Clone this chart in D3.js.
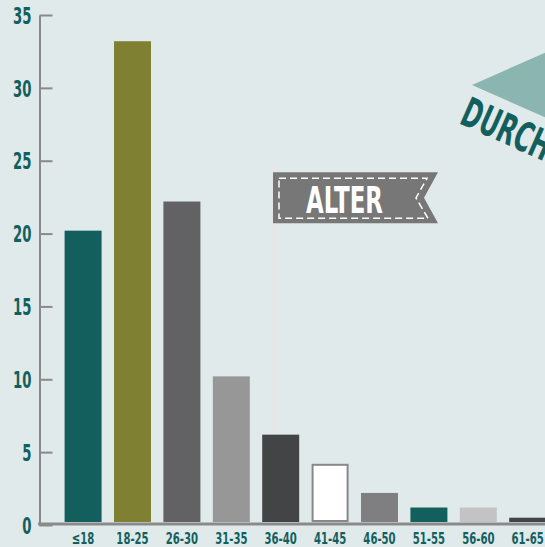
<!DOCTYPE html>
<html>
<head>
<meta charset="utf-8">
<script src="https://cdn.jsdelivr.net/npm/d3@7"></script>
<style>
  html, body { margin: 0; padding: 0; background: #e0eaea; overflow: hidden; }
  svg { display: block; }
  .lbl { font-family: "DejaVu Sans Condensed", "DejaVu Sans", sans-serif; font-weight: bold; }
</style>
</head>
<body>
<div id="chart"></div>
<script>
// age groups and share in percent
var categories = ['≤18', '18-25', '26-30', '31-35', '36-40', '41-45', '46-50', '51-55', '56-60', '61-65'];
var values = [20.2, 33.2, 22.2, 10.2, 6.2, 4.2, 2.2, 1.2, 1.2, 0.5];
var barColors = ['#135f5e', '#808033', '#626264', '#979797', '#434446', '#ffffff', '#7f7f82', '#135f5e', '#c3c3c5', '#434446'];
var yTicks = [0, 5, 10, 15, 20, 25, 30, 35];
var flagLabel = 'ALTER';
var nextTitle = 'DURCHSCHNITT';

var width = 545, height = 547;
var squeeze = 0.64; // narrow the condensed font a bit more

var svg = d3.select('#chart').append('svg')
    .attr('width', width)
    .attr('height', height);

var xScale = d3.scaleBand()
    .domain(categories)
    .range([64.6, 546.2])
    .paddingInner(0.251)
    .paddingOuter(0);

var yScale = d3.scaleLinear()
    .domain([0, 35])
    .range([525, 15]);

// cut-off heading of the next panel (top right)
svg.append('polygon')
    .attr('points', '472,85 560,46 560,124')
    .style('fill', '#8bb5b0');

svg.append('text')
    .attr('class', 'lbl')
    .attr('transform', 'translate(458,123) rotate(24) scale(' + squeeze + ',1)')
    .style('font-size', '41px')
    .style('fill', '#135f5e')
    .text(nextTitle);

// flag pole behind the bars
var poleX = xScale('36-40') + 10.3;
svg.append('rect')
    .attr('x', poleX)
    .attr('y', yScale(24.8))
    .attr('width', 3)
    .attr('height', yScale(0) - yScale(24.8))
    .style('fill', '#e7e6e6');

// bars
svg.selectAll('.bar')
    .data(values)
    .enter().append('rect')
    .attr('class', 'bar')
    .attr('x', (d, i) => xScale(categories[i]) + (i == 5 ? 1 : 0))
    .attr('y', (d, i) => yScale(d) + (i == 5 ? 1 : 0))
    .attr('width', (d, i) => xScale.bandwidth() - (i == 5 ? 2 : 0))
    .attr('height', (d, i) => yScale(0) - yScale(d) - 3 - (i == 5 ? 2 : 0))
    .style('fill', (d, i) => barColors[i])
    .style('stroke', (d, i) => i == 5 ? '#888' : 'none')
    .style('stroke-width', 2);

// flag banner
var fx = poleX + 0.5, fy = yScale(24.2), fw = 165, fh = 51;
svg.append('polygon')
    .attr('points', [[fx, fy], [fx + fw, fy], [fx + fw - 14, fy + fh / 2], [fx + fw, fy + fh], [fx, fy + fh]].join(' '))
    .style('fill', '#767776');

svg.append('path')
    .attr('d', `M${fx + 6},${fy + 6} H${fx + fw - 11} L${fx + fw - 22},${fy + fh / 2} L${fx + fw - 10},${fy + fh - 5} H${fx + 6} Z`)
    .style('fill', 'none')
    .style('stroke', '#fff')
    .style('stroke-width', 1.5)
    .style('stroke-dasharray', '7,4');

svg.append('text')
    .attr('class', 'lbl')
    .attr('transform', `translate(${fx + 71.5},${fy + 41}) scale(0.67,1)`)
    .attr('text-anchor', 'middle')
    .style('font-size', '38px')
    .style('fill', '#fff')
    .text(flagLabel);

// y axis, ticks point into the plot
var yAxis = d3.axisLeft(yScale)
    .tickValues(yTicks)
    .tickSizeInner(-13)
    .tickSizeOuter(0)
    .tickPadding(8);

svg.append('g')
    .attr('transform', 'translate(39.5, 0)')
    .call(yAxis)
    .call(g => g.select('.domain').attr('stroke', '#8a8a8a').attr('stroke-width', 2))
    .call(g => g.selectAll('.tick line').attr('stroke', '#8a8a8a').attr('stroke-width', 2))
    .call(g => g.selectAll('.tick text')
        .attr('class', 'lbl')
        .attr('x', -8 / squeeze)
        .attr('dy', '0.36em')
        .attr('transform', `scale(${squeeze},1)`)
        .style('font-size', '23px')
        .style('fill', '#135f5e'));

// x baseline
svg.append('line')
    .attr('x1', 38)
    .attr('x2', width)
    .attr('y1', yScale(0) - 1)
    .attr('y2', yScale(0) - 1)
    .attr('stroke', '#8a8a8a')
    .attr('stroke-width', 3);

// x labels
var xAxis = d3.axisBottom(xScale).tickSize(0);

svg.append('g')
    .attr('transform', `translate(0, ${yScale(0)})`)
    .call(xAxis)
    .call(g => g.select('.domain').remove())
    .call(g => g.selectAll('.tick text')
        .attr('class', 'lbl')
        .attr('y', 19.5)
        .attr('dy', null)
        .attr('transform', 'scale(0.68,1)')
        .style('font-size', '16.5px')
        .style('fill', '#135f5e'));
</script>
</body>
</html>
